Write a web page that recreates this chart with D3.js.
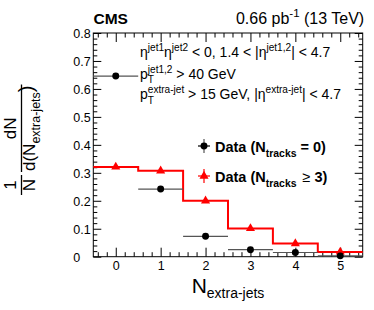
<!DOCTYPE html>
<html><head><meta charset="utf-8">
<script src="https://cdn.jsdelivr.net/npm/d3@7"></script>
<style>
html,body{margin:0;padding:0;background:#fff;}
svg{display:block;font-family:"Liberation Sans",Arial,Helvetica,sans-serif;}
text{white-space:pre;}
</style></head>
<body>
<svg id="chart" width="374" height="310" xml:space="preserve"></svg>
<script>
// ---- data ----
const categories = [0, 1, 2, 3, 4, 5];
const blackValues = [0.646, 0.242, 0.073, 0.025, 0.015, 0.003];   // Data (N_tracks = 0)
const redValues = [0.321, 0.307, 0.200, 0.101, 0.047, 0.017];     // Data (N_tracks >= 3)
const xTicks = [0, 1, 2, 3, 4, 5];
const yTicks = [0, 0.1, 0.2, 0.3, 0.4, 0.5, 0.6, 0.7, 0.8];
const yTickLabels = ["0", "0.1", "0.2", "0.3", "0.4", "0.5", "0.6", "0.7", "0.8"];

const svg = d3.select("#chart");
const L = 93.3, R = 362.7, T = 33, B = 256.7;
const x = d3.scaleLinear().domain([-0.5, 5.5]).range([L, R]);
const y = d3.scaleLinear().domain([0, 0.8]).range([B, T]);

const xMinor = d3.range(-0.4, 5.5, 0.2).map(v => +v.toFixed(2)).filter(v => Math.abs(v - Math.round(v)) > 1e-6);
const yMinor = d3.range(0, 0.801, 0.02).map(v => +v.toFixed(3)).filter(v => Math.abs(v * 10 - Math.round(v * 10)) > 1e-6);

function axisG(axis, tx, ty) {
  const g = svg.append("g").attr("transform", `translate(${tx},${ty})`).call(axis);
  g.select(".domain").remove();
  g.selectAll("line").attr("stroke", "#000").attr("stroke-width", 1);
  return g;
}
// bottom
const gxb = axisG(d3.axisBottom(x).tickValues(xTicks).tickSize(-9).tickFormat(d3.format("d")), 0, B);
gxb.selectAll("text").attr("y", 13.5).attr("dy", null).attr("font-size", 12.5).attr("fill", "#000").attr("font-family", "Liberation Sans, Arial, sans-serif");
axisG(d3.axisBottom(x).tickValues(xMinor).tickSize(-4.5).tickFormat(""), 0, B);
// top
axisG(d3.axisTop(x).tickValues(xTicks).tickSize(-9).tickFormat(""), 0, T);
axisG(d3.axisTop(x).tickValues(xMinor).tickSize(-4.5).tickFormat(""), 0, T);
// left
const gyl = axisG(d3.axisLeft(y).tickValues(yTicks).tickSize(-8).tickFormat((d, i) => yTickLabels[i]), L, 0);
gyl.selectAll("text").attr("text-anchor", "start").attr("x", -20).attr("dy", "0.36em").attr("font-size", 12.5).attr("fill", "#000").attr("font-family", "Liberation Sans, Arial, sans-serif");
axisG(d3.axisLeft(y).tickValues(yMinor).tickSize(-4).tickFormat(""), L, 0);
// right
axisG(d3.axisRight(y).tickValues(yTicks).tickSize(-8).tickFormat(""), R, 0);
axisG(d3.axisRight(y).tickValues(yMinor).tickSize(-4).tickFormat(""), R, 0);

// frame
svg.append("rect").attr("x", L).attr("y", T).attr("width", R - L).attr("height", B - T)
  .attr("fill", "none").attr("stroke", "#000").attr("stroke-width", 1);

// red histogram step
const stepPts = categories.map((c, i) => [c - 0.5, redValues[i]]);
stepPts.push([categories[categories.length - 1] + 0.5, redValues[redValues.length - 1]]);
svg.append("path").attr("d", d3.line().x(d => x(d[0])).y(d => y(d[1])).curve(d3.curveStepAfter)(stepPts))
  .attr("fill", "none").attr("stroke", "#ff0000").attr("stroke-width", 2);

// black horizontal error bars
svg.selectAll(".hbar").data(categories).enter().append("line")
  .attr("x1", d => x(d - 0.5)).attr("x2", d => x(d + 0.5))
  .attr("y1", (d, i) => y(blackValues[i])).attr("y2", (d, i) => y(blackValues[i]))
  .attr("stroke", "#555").attr("stroke-width", 1.2);

// markers
const circ = d3.symbol().type(d3.symbolCircle).size(38);
const tri = d3.symbol().type(d3.symbolTriangle).size(36);
svg.selectAll(".rm").data(categories).enter().append("path")
  .attr("d", tri).attr("transform", (d, i) => `translate(${x(d)},${y(redValues[i])})`).attr("fill", "#ff0000");
svg.selectAll(".bm").data(categories).enter().append("path")
  .attr("d", circ).attr("transform", (d, i) => `translate(${x(d)},${y(blackValues[i])})`).attr("fill", "#000");

// ---- rich text helper ----
function rich(parent, x0, yb, parts, fs, weight) {
  let cx = x0;
  const sfs = fs * 0.72;
  parts.forEach(p => {
    if (p.type === "n") {
      const t = parent.append("text").attr("x", cx).attr("y", yb).attr("font-size", p.fs || fs)
        .attr("font-weight", p.fw || weight || "normal").attr("fill", p.fill || "#000").text(p.t);
      cx += t.node().getComputedTextLength();
    } else {
      let w = 0;
      if (p.sup) {
        const t = parent.append("text").attr("x", cx).attr("y", yb - fs * 0.42).attr("font-size", sfs)
          .attr("font-weight", weight || "normal").text(p.sup);
        w = Math.max(w, t.node().getComputedTextLength());
      }
      if (p.sub) {
        const t = parent.append("text").attr("x", cx).attr("y", yb + fs * 0.33).attr("font-size", sfs)
          .attr("font-weight", weight || "normal").text(p.sub);
        w = Math.max(w, t.node().getComputedTextLength());
      }
      cx += w + (p.pad || 0);
    }
  });
  return cx;
}

// top labels
svg.append("text").attr("x", 93.5).attr("y", 23.5).attr("font-size", 15.5).attr("font-weight", "bold").text("CMS");
const rt = svg.append("g");
const wEnd = rich(rt, 0, 23.5, [{type: "n", t: "0.66 pb"}, {type: "s", sup: "-1"}, {type: "n", t: " (13 TeV)"}], 16);
rt.attr("transform", `translate(${R + 1.5 - wEnd},0)`);

// selection text
const st = svg.append("g");
const hx = 140, hfs = 14;
rich(st, hx, 57, [{type: "n", t: "η"}, {type: "s", sup: "jet1"}, {type: "n", t: "η"}, {type: "s", sup: "jet2"},
  {type: "n", t: " < 0, 1.4 < |η"}, {type: "s", sup: "jet1,2"}, {type: "n", t: "| < 4.7"}], hfs);
rich(st, hx, 78.5, [{type: "n", t: "p"}, {type: "s", sup: "jet1,2", sub: "T"}, {type: "n", t: " > 40 GeV"}], hfs);
rich(st, hx, 99, [{type: "n", t: "p"}, {type: "s", sup: "extra-jet", sub: "T"}, {type: "n", t: " > 15 GeV, |η"},
  {type: "s", sup: "extra-jet"}, {type: "n", t: "| < 4.7"}], hfs);

// legend
const lg = svg.append("g");
const lx = 204;
const legY = [146, 176];
// black entry
lg.append("line").attr("x1", lx - 6).attr("x2", lx + 6).attr("y1", legY[0]).attr("y2", legY[0]).attr("stroke", "#000").attr("stroke-width", 1.2);
lg.append("line").attr("x1", lx).attr("x2", lx).attr("y1", legY[0] - 7).attr("y2", legY[0] + 7).attr("stroke", "#555").attr("stroke-width", 1.2);
lg.append("path").attr("d", circ).attr("transform", `translate(${lx},${legY[0]})`).attr("fill", "#000");
// red entry
lg.append("line").attr("x1", lx - 6).attr("x2", lx + 6).attr("y1", legY[1]).attr("y2", legY[1]).attr("stroke", "#ff0000").attr("stroke-width", 1.2);
lg.append("line").attr("x1", lx).attr("x2", lx).attr("y1", legY[1] - 7).attr("y2", legY[1] + 7).attr("stroke", "#ff0000").attr("stroke-width", 1.2);
lg.append("path").attr("d", tri).attr("transform", `translate(${lx},${legY[1]})`).attr("fill", "#ff0000");
rich(lg, 215, legY[0] + 6, [{type: "n", t: "Data (N"}, {type: "s", sub: "tracks", pad: 4}, {type: "n", t: "= 0)"}], 14.5, "bold");
rich(lg, 215, legY[1] + 6, [{type: "n", t: "Data (N"}, {type: "s", sub: "tracks", pad: 6}, {type: "n", t: "≥", fw: "normal"}, {type: "n", t: " 3)"}], 14.5, "bold");

// x axis title
const xt = svg.append("text").attr("x", (L + R) / 2).attr("y", 293).attr("text-anchor", "middle");
xt.append("tspan").attr("font-size", 21).text("N");
xt.append("tspan").attr("font-size", 14).attr("dy", 5).text("extra-jets");

// y axis title (rotated fraction)
const yg = svg.append("g").attr("transform", "translate(0,145) rotate(-90)");
const fs = 17;
// small fraction 1/N
yg.append("text").attr("x", -40).attr("y", 16).attr("text-anchor", "middle").attr("font-size", fs).text("1");
yg.append("text").attr("x", -40).attr("y", 35).attr("text-anchor", "middle").attr("font-size", fs).text("N");
yg.append("line").attr("x1", -50).attr("x2", -30).attr("y1", 21.5).attr("y2", 21.5).attr("stroke", "#000").attr("stroke-width", 1.3);
// denominator
const d0 = -26;
const den = yg.append("text").attr("x", d0).attr("y", 35).attr("font-size", fs);
den.append("tspan").text("d(N");
den.append("tspan").attr("font-size", 12.5).attr("dy", 5).text("extra-jets");
den.append("tspan").attr("dy", -7).attr("font-size", fs + 3).text(")");
const dw = den.node().getComputedTextLength();
yg.append("line").attr("x1", d0 - 1).attr("x2", d0 + dw + 1).attr("y1", 21.5).attr("y2", 21.5).attr("stroke", "#000").attr("stroke-width", 1.3);
yg.append("text").attr("x", d0 + dw / 2).attr("y", 16).attr("text-anchor", "middle").attr("font-size", fs).text("dN");
</script>
</body></html>
